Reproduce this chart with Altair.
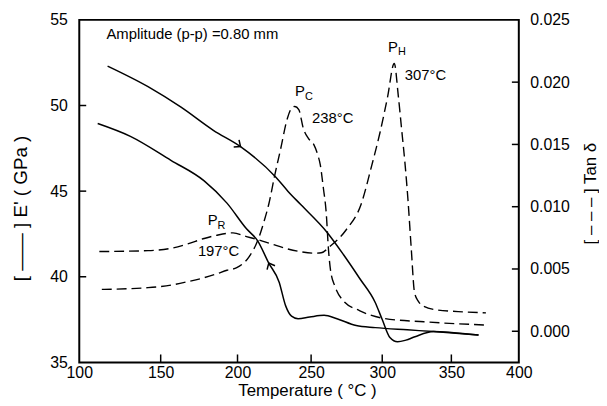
import altair as alt
import pandas as pd

# ---- E' (GPa) curves ----
heat_T = [117, 142, 163, 184, 202, 226, 234, 243, 261, 272.5, 284, 295, 300, 305.5, 311, 317, 323.5, 337, 350, 370]
heat_E = [52.3, 51.1, 49.9, 48.55, 47.6, 45.8, 45.0, 44.2, 42.6, 41.3, 39.9, 38.5, 37.5, 36.45, 36.2, 36.3, 36.5, 36.8, 36.75, 36.6]

cool_T = [111, 131, 156.5, 178, 193, 206, 213.5, 221, 228, 232.5, 236.5, 241, 249, 259, 268, 281.5, 295, 318, 337, 370]
cool_E = [48.95, 48.2, 46.8, 45.6, 44.3, 42.8, 42.1, 40.8, 39.7, 38.3, 37.7, 37.55, 37.65, 37.75, 37.55, 37.15, 37.03, 36.9, 36.8, 36.6]

# ---- tan delta curves ----
tanA_T = [112, 142, 157, 167, 178, 186, 197, 206, 213.5, 223, 232.5, 242, 252, 257, 263, 274.5, 285, 292.5,
          298.5, 303.8, 308.6, 311.5, 314, 316.3, 318.5, 320.8, 323.2, 326, 330, 340, 355, 375.5]
tanA_v = [0.0064, 0.00647, 0.00667, 0.0070, 0.00745, 0.0077, 0.0079, 0.0076, 0.00736, 0.0070, 0.00665, 0.0064,
          0.00627, 0.0063, 0.0068, 0.00815, 0.0102, 0.0133, 0.0160, 0.0188, 0.0215, 0.0189, 0.0161, 0.0135,
          0.0105, 0.0067, 0.0031, 0.0024, 0.0020, 0.0017, 0.00158, 0.00148]

tanB_T = [113.5, 142, 156.5, 168, 178, 186, 193, 199.5, 207.8, 213.6, 218, 221, 225, 229, 233.7, 236.5, 238.8,
          241.5, 244.6, 248, 251.8, 254.5, 256.3, 258.5, 260.5, 262.1, 263.5, 266.6, 272.4, 283.8, 301.9, 330, 375.5]
tanB_v = [0.00336, 0.0035, 0.0037, 0.0040, 0.0043, 0.0046, 0.0049, 0.0051, 0.0060, 0.0073, 0.0089, 0.0102,
          0.0125, 0.0146, 0.0171, 0.0179, 0.01805, 0.0178, 0.0163, 0.0155, 0.0150, 0.0142, 0.0134, 0.0115,
          0.0095, 0.0065, 0.0049, 0.0036, 0.00245, 0.00166, 0.00102, 0.00076, 0.0005]

# ---- direction arrows on E' curves ----
arrow_T = [202, 221]
arrow_E = [47.6, 40.8]
arrow_ang = [37, 244]

# ---- annotations ----
peak_T = [238.9, 304.2, 180.3]
peak_v = [0.01888, 0.02246, 0.00855]
peak_main = ["P", "P", "P"]
peak_sub = ["C", "H", "R"]
temp_T = [250.6, 316.2, 173.9]
temp_v = [0.01676, 0.02021, 0.00603]
temp_lbl = ["238°C", "307°C", "197°C"]
amp_T = [116.3]
amp_E = [53.87]
amp_lbl = ["Amplitude (p-p) =0.80 mm"]

# ---- ticks ----
x_ticks = [100, 150, 200, 250, 300, 350, 400]
E_ticks = [35, 40, 45, 50, 55]
tan_ticks = [0.0, 0.005, 0.010, 0.015, 0.020, 0.025]
x_inner = [150, 200, 250, 300, 350]
E_inner = [40, 45, 50]
tan_inner = [0.0, 0.005, 0.010, 0.015, 0.020]

FONT = "Liberation Sans"
W, H = 444, 346

x_enc = alt.X(
    "T:Q",
    scale=alt.Scale(type="pow", exponent=0.83, domain=[100, 400], nice=False, zero=False),
    axis=alt.Axis(values=x_ticks, format="d", title="Temperature ( °C )",
                  titleX=230, titleY=33, titleAlign="center", titleBaseline="alphabetic",
                  titleFontSize=17, labelFontSize=16, labelPadding=2),
)
yE = alt.Y(
    "E:Q",
    scale=alt.Scale(domain=[35, 55], nice=False, zero=False),
    axis=alt.Axis(orient="left", values=E_ticks, format="d", title="[ —— ] E' ( GPa )",
                  titleX=-53, titleY=190, titleAngle=270, titleAlign="center",
                  titleBaseline="alphabetic", titleFontSize=19, labelFontSize=16, labelPadding=12),
)
yT = alt.Y(
    "tan:Q",
    scale=alt.Scale(domain=[-0.0025, 0.025], nice=False, zero=False),
    axis=alt.Axis(orient="right", values=tan_ticks, format=".3f", title="[ – – – ] Tan δ",
                  titleX=77, titleY=175, titleAngle=270, titleAlign="center",
                  titleBaseline="alphabetic", titleFontSize=17, labelFontSize=16, labelPadding=11),
)

dfE = pd.concat([
    pd.DataFrame({"T": heat_T, "E": heat_E, "curve": "heating"}),
    pd.DataFrame({"T": cool_T, "E": cool_E, "curve": "cooling"}),
])
dfT = pd.concat([
    pd.DataFrame({"T": tanA_T, "tan": tanA_v, "curve": "A"}),
    pd.DataFrame({"T": tanB_T, "tan": tanB_v, "curve": "B"}),
])

lines_E = alt.Chart(dfE).mark_line(color="black", strokeWidth=1.5, interpolate="monotone").encode(
    x=x_enc, y=yE, detail="curve:N")
arrows = alt.Chart(pd.DataFrame({"T": arrow_T, "E": arrow_E, "ang": arrow_ang})).mark_point(
    shape="M-1,-0.85L0,0L-1,0.85", filled=False, size=110, strokeWidth=1.5, color="black", opacity=1
).encode(x=x_enc, y=yE, angle=alt.Angle("ang:Q", scale=None))
e_ticks = alt.Chart(pd.DataFrame({"E": E_inner})).mark_rule(color="black", strokeWidth=1.5).encode(
    y=yE, x=alt.value(0), x2=alt.value(7))
x_tick_marks = alt.Chart(pd.DataFrame({"T": x_inner})).mark_rule(color="black", strokeWidth=1.5).encode(
    x=x_enc, y=alt.value(H), y2=alt.value(H - 8))
amp = alt.Chart(pd.DataFrame({"T": amp_T, "E": amp_E, "label": amp_lbl})).mark_text(
    align="left", baseline="alphabetic", fontSize=15, color="black").encode(x=x_enc, y=yE, text="label:N")

layerA = alt.layer(lines_E, arrows, e_ticks, x_tick_marks, amp)

lines_T = alt.Chart(dfT).mark_line(color="black", strokeWidth=1.4, strokeDash=[10, 5],
                                   interpolate="monotone").encode(x=x_enc, y=yT, detail="curve:N")
t_ticks = alt.Chart(pd.DataFrame({"tan": tan_inner})).mark_rule(color="black", strokeWidth=1.5).encode(
    y=yT, x=alt.value(W), x2=alt.value(W - 7))
dfP = pd.DataFrame({"T": peak_T, "tan": peak_v, "main": peak_main, "sub": peak_sub})
p_main = alt.Chart(dfP).mark_text(align="left", baseline="alphabetic", fontSize=15, color="black").encode(
    x=x_enc, y=yT, text="main:N")
p_sub = alt.Chart(dfP).mark_text(align="left", baseline="alphabetic", fontSize=11, color="black",
                                 dx=10, dy=4).encode(x=x_enc, y=yT, text="sub:N")
temps = alt.Chart(pd.DataFrame({"T": temp_T, "tan": temp_v, "label": temp_lbl})).mark_text(
    align="left", baseline="alphabetic", fontSize=15, color="black").encode(x=x_enc, y=yT, text="label:N")

layerB = alt.layer(lines_T, t_ticks, p_main, p_sub, temps)

chart = (
    alt.layer(layerA, layerB)
    .resolve_scale(y="independent")
    .properties(width=W, height=H,
                padding={"left": 72, "top": 10, "right": 81, "bottom": 37},
                autosize=alt.AutoSizeParams(type="none"))
    .configure(font=FONT)
    .configure_view(stroke="black", strokeWidth=2)
    .configure_axis(grid=False, domain=False, ticks=False, tickSize=0, labelColor="black",
                    titleColor="black", titleFontWeight="normal", labelFlush=False,
                    labelOverlap=False, labelFont=FONT, titleFont=FONT)
)

chart.save("out.html", embed_options={"renderer": "svg", "actions": False})
